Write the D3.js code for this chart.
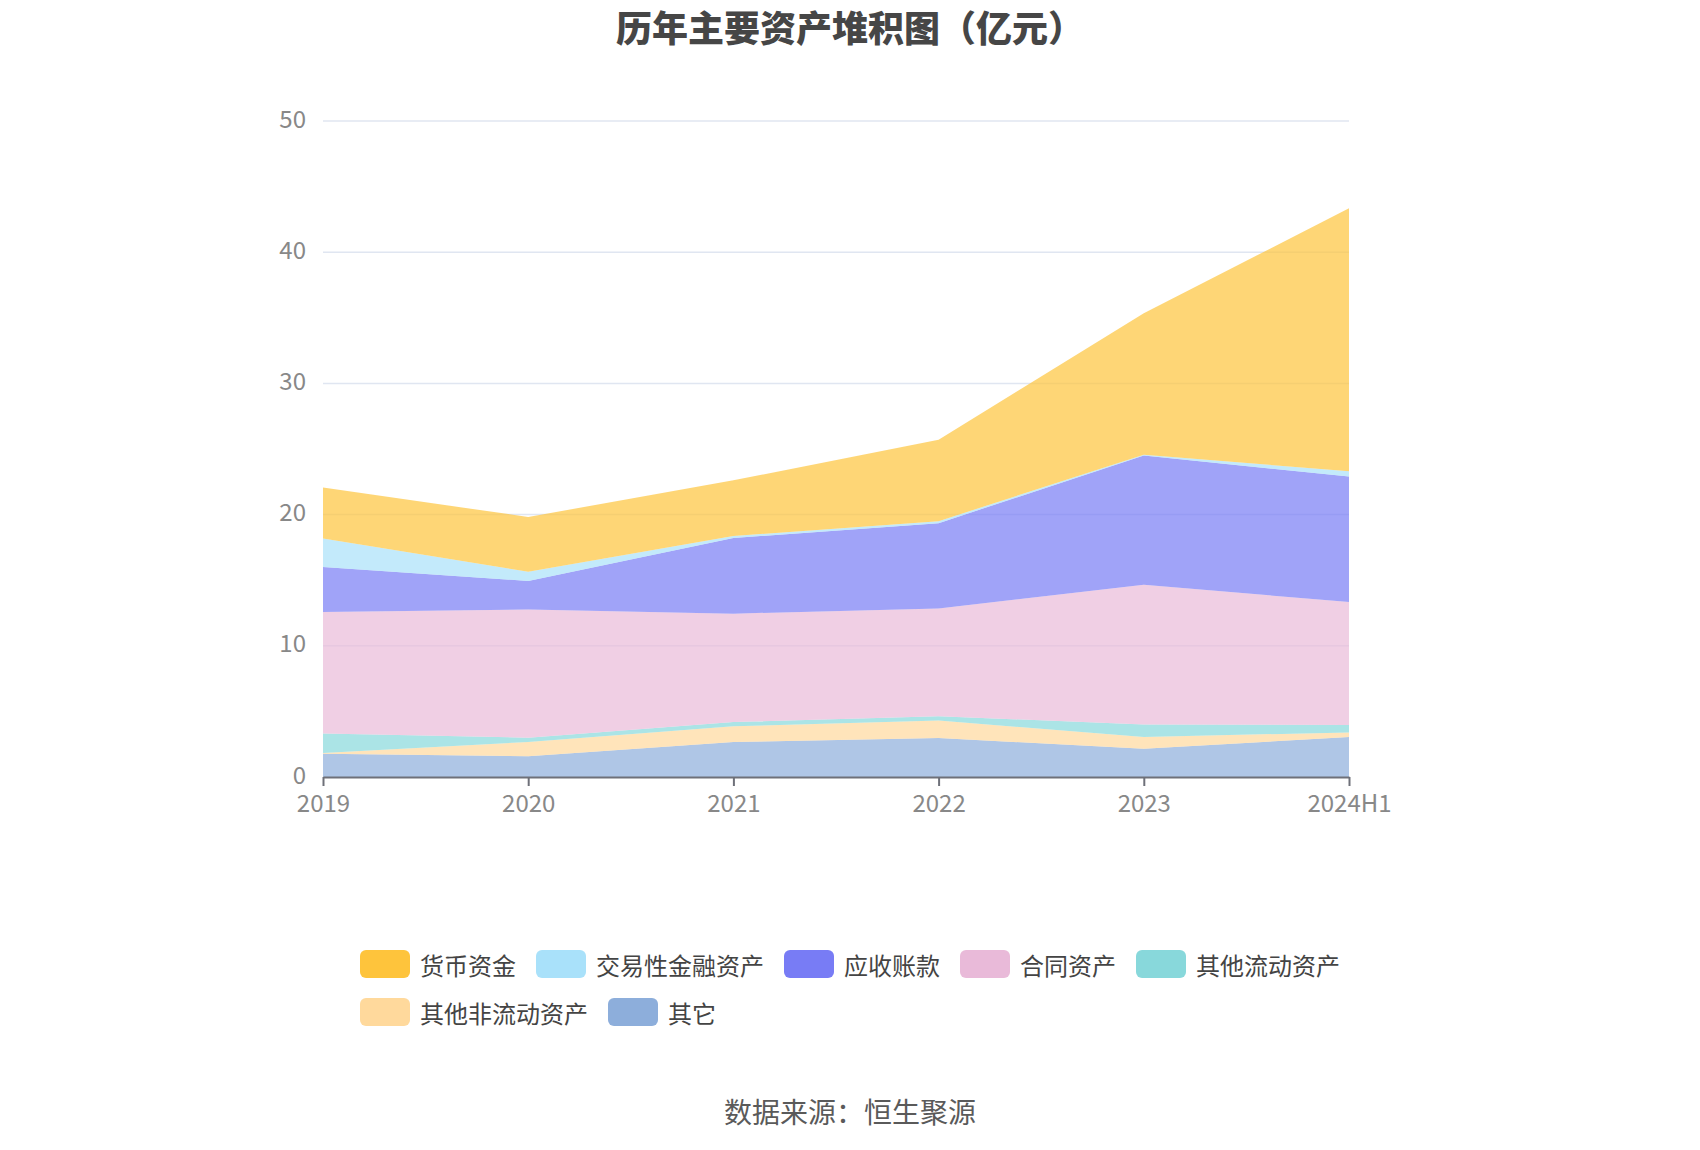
<!DOCTYPE html>
<html>
<head>
<meta charset="utf-8">
<script src="https://cdn.jsdelivr.net/npm/d3@7"></script>
<style>
  body { margin: 0; background: #fff; }
  text { font-family: "Noto Sans CJK SC", "Noto Sans", sans-serif; }
</style>
</head>
<body>
<div class="canvas"></div>
<script>
// data (亿元)
const years = ['2019', '2020', '2021', '2022', '2023', '2024H1'];
const cash = [3.89, 4.17, 4.24, 6.20, 10.79, 20.05];          // 货币资金
const tradingAssets = [2.17, 0.71, 0.15, 0.15, 0.06, 0.40];   // 交易性金融资产
const receivables = [3.42, 2.18, 5.77, 6.50, 9.85, 9.57];     // 应收账款
const contractAssets = [9.27, 9.76, 8.26, 8.22, 10.65, 9.36]; // 合同资产
const otherCurrent = [1.48, 0.33, 0.33, 0.33, 0.95, 0.57];    // 其他流动资产
const otherNonCurrent = [0.05, 1.09, 1.19, 1.33, 0.90, 0.35]; // 其他非流动资产
const others = [1.78, 1.58, 2.67, 2.97, 2.15, 3.05];          // 其它
const yTicks = [0, 10, 20, 30, 40, 50];

// legend order
const series = [
  { name: '货币资金', values: cash, color: '#FEC43C' },
  { name: '交易性金融资产', values: tradingAssets, color: '#A9E1FA' },
  { name: '应收账款', values: receivables, color: '#787CF5' },
  { name: '合同资产', values: contractAssets, color: '#E9BAD9' },
  { name: '其他流动资产', values: otherCurrent, color: '#88D8DB' },
  { name: '其他非流动资产', values: otherNonCurrent, color: '#FFD99C' },
  { name: '其它', values: others, color: '#8DAEDB' }
];

const W = 1700, H = 1150;
const margin = { top: 121, right: 351, bottom: 373, left: 323 };
const graphWidth = W - margin.left - margin.right;
const graphHeight = H - margin.top - margin.bottom;

const svg = d3.select('.canvas')
  .append('svg')
  .attr('width', W)
  .attr('height', H);

// title
svg.append('text')
  .attr('x', W / 2)
  .attr('y', 26)
  .attr('text-anchor', 'middle')
  .attr('dominant-baseline', 'central')
  .attr('font-size', 36)
  .attr('font-weight', 900)
  .attr('fill', '#464646')
  .text('历年主要资产堆积图（亿元）');

const graph = svg.append('g')
  .attr('transform', `translate(${margin.left}, ${margin.top})`);

// scales
const x = d3.scalePoint()
  .domain(years)
  .range([0, graphWidth]);

const y = d3.scaleLinear()
  .domain([0, 50])
  .range([graphHeight, 0]);

// gridlines
graph.append('g')
  .selectAll('line')
  .data(yTicks.filter(d => d > 0))
  .enter().append('line')
  .attr('x1', 0)
  .attr('x2', graphWidth)
  .attr('y1', d => y(d))
  .attr('y2', d => y(d))
  .attr('stroke', '#E0E6F1')
  .attr('stroke-width', 1.5);

// stacked data, bottom layer first
const table = years.map((yr, i) => {
  const row = { year: yr };
  series.forEach(s => { row[s.name] = s.values[i]; });
  return row;
});
const stackOrder = series.slice().reverse();
const stacked = d3.stack().keys(stackOrder.map(s => s.name))(table);

const area = d3.area()
  .x(d => x(d.data.year))
  .y0(d => y(d[0]))
  .y1(d => y(d[1]));

graph.append('g')
  .selectAll('path')
  .data(stacked)
  .enter().append('path')
  .attr('d', area)
  .attr('fill', (d, i) => stackOrder[i].color)
  .attr('fill-opacity', 0.7);

// axes
const xAxis = d3.axisBottom(x).tickSize(9).tickPadding(9).tickSizeOuter(0);
const yAxis = d3.axisLeft(y).tickValues(yTicks).tickSize(0).tickPadding(17);

const xAxisGroup = graph.append('g')
  .attr('transform', `translate(0, ${graphHeight})`)
  .call(xAxis);
xAxisGroup.select('.domain').attr('stroke', '#6E7079').attr('stroke-width', 2);
xAxisGroup.selectAll('.tick line').attr('stroke', '#6E7079').attr('stroke-width', 2);
xAxisGroup.selectAll('text')
  .attr('font-size', 24)
  .attr('fill', '#888')
  .attr('font-family', '"Noto Sans CJK SC", "Noto Sans", sans-serif');

const yAxisGroup = graph.append('g').call(yAxis);
yAxisGroup.select('.domain').remove();
yAxisGroup.selectAll('text')
  .attr('font-size', 24)
  .attr('fill', '#888')
  .attr('dy', '0.25em')
  .attr('font-family', '"Noto Sans CJK SC", "Noto Sans", sans-serif');

// legend: rows left-aligned, block centred
const itemW = 50, itemH = 28, itemGap = 20, textGap = 10, rowH = 48, maxRow = 1100;
const legend = svg.append('g');
const items = series.map(s => {
  const g = legend.append('g');
  g.append('rect')
    .attr('width', itemW)
    .attr('height', itemH)
    .attr('rx', 6)
    .attr('fill', s.color);
  const t = g.append('text')
    .attr('x', itemW + textGap)
    .attr('y', itemH / 2)
    .attr('dominant-baseline', 'central')
    .attr('font-size', 24)
    .attr('fill', '#444')
    .text(s.name);
  return { g, w: itemW + textGap + t.node().getComputedTextLength() };
});

const rows = [[]];
let rowWidth = 0;
items.forEach(it => {
  const add = (rows[rows.length - 1].length ? itemGap : 0) + it.w;
  if (rowWidth + add > maxRow && rows[rows.length - 1].length) {
    rows.push([it]);
    rowWidth = it.w;
  } else {
    rows[rows.length - 1].push(it);
    rowWidth += add;
  }
});
const rowWidths = rows.map(r => d3.sum(r, it => it.w) + itemGap * (r.length - 1));
const legendLeft = (W - d3.max(rowWidths)) / 2;
rows.forEach((r, ri) => {
  let cx = legendLeft;
  r.forEach(it => {
    it.g.attr('transform', `translate(${cx}, ${950 + ri * rowH})`);
    cx += it.w + itemGap;
  });
});

// source
svg.append('text')
  .attr('x', W / 2)
  .attr('y', 1111)
  .attr('text-anchor', 'middle')
  .attr('dominant-baseline', 'central')
  .attr('font-size', 28)
  .attr('fill', '#5a5a5a')
  .text('数据来源：恒生聚源');
</script>
</body>
</html>
